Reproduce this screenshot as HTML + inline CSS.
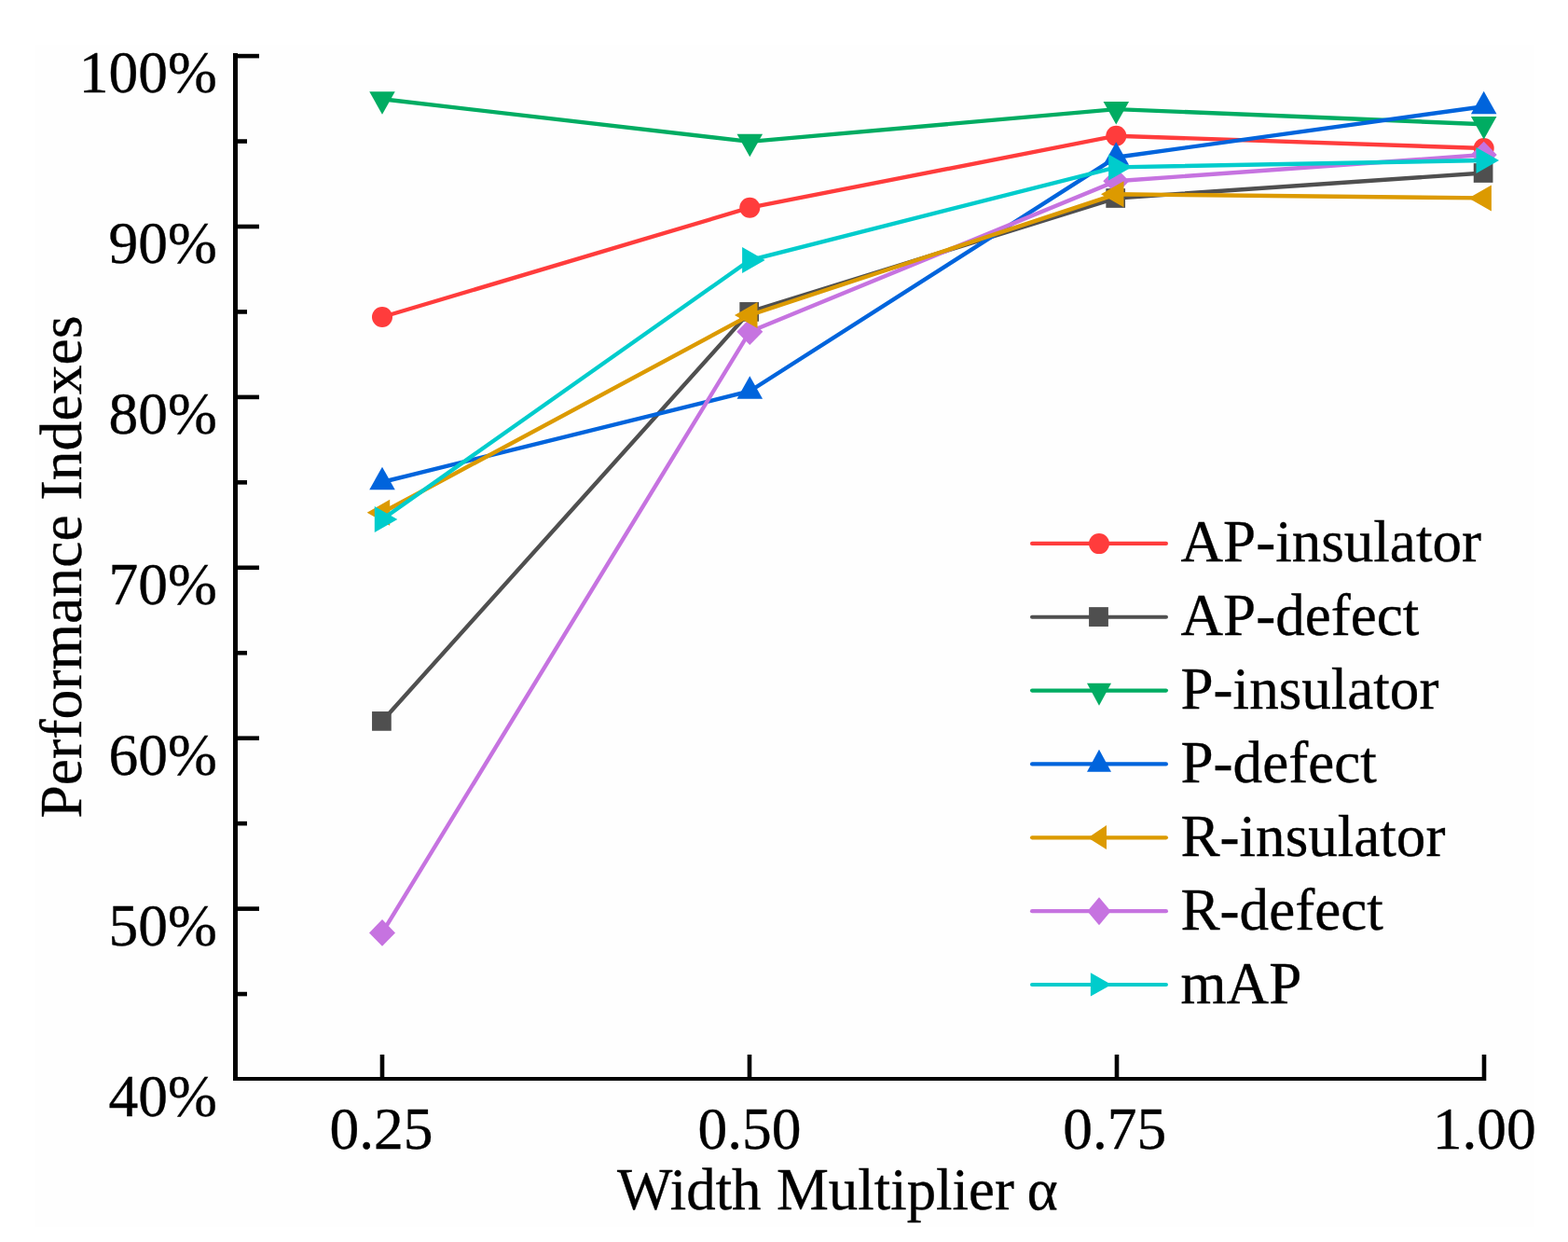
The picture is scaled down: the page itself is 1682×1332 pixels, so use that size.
<!DOCTYPE html>
<html><head><meta charset="utf-8"><title>Performance Indexes vs Width Multiplier</title>
<style>html,body{margin:0;padding:0;background:#fff;width:1682px;height:1332px;overflow:hidden}svg{display:block}
text{font-family:"Liberation Serif","Times New Roman",serif;fill:#000;stroke:#000;stroke-width:0.35px}</style></head><body>
<svg width="1682" height="1332" viewBox="0 0 1682 1332">
<rect x="0" y="0" width="1682" height="1332" fill="#ffffff"/>
<rect x="38" y="48" width="1608" height="1268" fill="#fefefe"/>

<g stroke-linejoin="miter" stroke-linecap="butt" fill="none">
<polyline points="410.00,340.00 804.30,222.70 1197.30,145.70 1591.70,159.00" stroke="#FF3C3C" stroke-width="4.4" fill="none"/>
<circle cx="410.00" cy="340.00" r="11" fill="#FF3C3C"/>
<circle cx="804.30" cy="222.70" r="11" fill="#FF3C3C"/>
<circle cx="1197.30" cy="145.70" r="11" fill="#FF3C3C"/>
<circle cx="1591.70" cy="159.00" r="11" fill="#FF3C3C"/>
<polyline points="410.00,773.40 804.30,334.40 1197.30,212.50 1591.70,185.50" stroke="#4F4F4F" stroke-width="4.4" fill="none"/>
<rect x="399.05" y="763.05" width="20.70" height="20.70" fill="#4F4F4F"/>
<rect x="793.35" y="324.05" width="20.70" height="20.70" fill="#4F4F4F"/>
<rect x="1186.35" y="202.15" width="20.70" height="20.70" fill="#4F4F4F"/>
<rect x="1580.75" y="175.15" width="20.70" height="20.70" fill="#4F4F4F"/>
<polyline points="410.00,106.30 804.30,151.90 1197.30,117.10 1591.70,133.20" stroke="#00AC62" stroke-width="4.4" fill="none"/>
<polygon points="410.00,122.63 423.75,98.13 396.25,98.13" fill="#00AC62"/>
<polygon points="804.30,168.23 818.05,143.73 790.55,143.73" fill="#00AC62"/>
<polygon points="1197.30,133.43 1211.05,108.93 1183.55,108.93" fill="#00AC62"/>
<polygon points="1591.70,149.53 1605.45,125.03 1577.95,125.03" fill="#00AC62"/>
<polyline points="410.00,517.00 804.30,419.50 1197.30,168.70 1591.70,114.20" stroke="#0064DC" stroke-width="4.4" fill="none"/>
<polygon points="410.00,500.67 423.75,525.17 396.25,525.17" fill="#0064DC"/>
<polygon points="804.30,403.17 818.05,427.67 790.55,427.67" fill="#0064DC"/>
<polygon points="1197.30,152.37 1211.05,176.87 1183.55,176.87" fill="#0064DC"/>
<polygon points="1591.70,97.87 1605.45,122.37 1577.95,122.37" fill="#0064DC"/>
<polyline points="410.00,1000.40 804.30,355.70 1197.30,194.20 1591.70,166.00" stroke="#C673E0" stroke-width="4.4" fill="none"/>
<polygon points="410.00,986.10 424.00,1000.40 410.00,1014.70 396.00,1000.40" fill="#C673E0"/>
<polygon points="804.30,341.40 818.30,355.70 804.30,370.00 790.30,355.70" fill="#C673E0"/>
<polygon points="1197.30,179.90 1211.30,194.20 1197.30,208.50 1183.30,194.20" fill="#C673E0"/>
<polygon points="1591.70,151.70 1605.70,166.00 1591.70,180.30 1577.70,166.00" fill="#C673E0"/>
<polyline points="410.00,549.80 804.30,338.00 1197.30,208.30 1591.70,212.40" stroke="#DC9A00" stroke-width="4.4" fill="none"/>
<polygon points="393.67,549.80 418.17,535.80 418.17,563.80" fill="#DC9A00"/>
<polygon points="787.97,338.00 812.47,324.00 812.47,352.00" fill="#DC9A00"/>
<polygon points="1180.97,208.30 1205.47,194.30 1205.47,222.30" fill="#DC9A00"/>
<polygon points="1575.37,212.40 1599.87,198.40 1599.87,226.40" fill="#DC9A00"/>
<polyline points="410.00,557.00 804.30,279.00 1197.30,179.40 1591.70,172.00" stroke="#00CCCC" stroke-width="4.4" fill="none"/>
<polygon points="426.33,557.00 401.83,543.00 401.83,571.00" fill="#00CCCC"/>
<polygon points="820.63,279.00 796.13,265.00 796.13,293.00" fill="#00CCCC"/>
<polygon points="1213.63,179.40 1189.13,165.40 1189.13,193.40" fill="#00CCCC"/>
<polygon points="1608.03,172.00 1583.53,158.00 1583.53,186.00" fill="#00CCCC"/>
</g>
<g fill="#000">
<rect x="250" y="57" width="5" height="1102"/>
<rect x="250" y="1155" width="1344" height="4"/>
<rect x="250" y="1063.75" width="15" height="4.6"/>
<rect x="250" y="972.30" width="28" height="4.6"/>
<rect x="250" y="880.85" width="15" height="4.6"/>
<rect x="250" y="789.40" width="28" height="4.6"/>
<rect x="250" y="697.95" width="15" height="4.6"/>
<rect x="250" y="606.50" width="28" height="4.6"/>
<rect x="250" y="515.05" width="15" height="4.6"/>
<rect x="250" y="423.60" width="28" height="4.6"/>
<rect x="250" y="332.15" width="15" height="4.6"/>
<rect x="250" y="240.70" width="28" height="4.6"/>
<rect x="250" y="149.25" width="15" height="4.6"/>
<rect x="250" y="57.80" width="28" height="4.6"/>
<rect x="407.70" y="1131" width="4.6" height="28"/>
<rect x="801.70" y="1131" width="4.6" height="28"/>
<rect x="1195.70" y="1131" width="4.6" height="28"/>
<rect x="1589.70" y="1131" width="4.6" height="28"/>
</g>
<text x="233" y="1196.6" font-size="63.5" text-anchor="end">40%</text>
<text x="233" y="1013.7" font-size="63.5" text-anchor="end">50%</text>
<text x="233" y="830.8" font-size="63.5" text-anchor="end">60%</text>
<text x="233" y="647.9" font-size="63.5" text-anchor="end">70%</text>
<text x="233" y="465.0" font-size="63.5" text-anchor="end">80%</text>
<text x="233" y="282.1" font-size="63.5" text-anchor="end">90%</text>
<text x="233" y="99.2" font-size="63.5" text-anchor="end">100%</text>
<text x="353.4" y="1231.6" font-size="63.5">0.25</text>
<text x="748.4" y="1231.6" font-size="63.5">0.50</text>
<text x="1140.2" y="1231.6" font-size="63.5">0.75</text>
<text x="1536.7" y="1231.6" font-size="63.5">1.00</text>
<text y="1297" font-size="62.9"><tspan x="661.9">Width</tspan> <tspan x="832.9">Multiplier</tspan> <tspan x="1101.8">α</tspan></text>
<text transform="translate(87.3,877.6) rotate(-90)" y="0" font-size="63.7"><tspan x="0">Performance</tspan> <tspan x="341.1">Indexes</tspan></text>
<line x1="1107.1" y1="582.90" x2="1250.9" y2="582.90" stroke="#FF3C3C" stroke-width="4.2" stroke-linecap="round"/>
<circle cx="1179.00" cy="583.10" r="11" fill="#FF3C3C"/>
<text x="1266.5" y="602.4" font-size="63.1">AP-insulator</text>
<line x1="1107.1" y1="661.75" x2="1250.9" y2="661.75" stroke="#4F4F4F" stroke-width="4.2" stroke-linecap="round"/>
<rect x="1168.10" y="651.15" width="20.80" height="20.80" fill="#4F4F4F"/>
<text x="1266.5" y="681.2" font-size="63.1">AP-defect</text>
<line x1="1107.1" y1="740.60" x2="1250.9" y2="740.60" stroke="#00AC62" stroke-width="4.2" stroke-linecap="round"/>
<polygon points="1179.00,756.80 1192.00,732.80 1166.00,732.80" fill="#00AC62"/>
<text x="1266.5" y="760.1" font-size="63.1">P-insulator</text>
<line x1="1107.1" y1="819.45" x2="1250.9" y2="819.45" stroke="#0064DC" stroke-width="4.2" stroke-linecap="round"/>
<polygon points="1179.00,803.65 1192.00,827.65 1166.00,827.65" fill="#0064DC"/>
<text x="1266.5" y="838.9" font-size="63.1">P-defect</text>
<line x1="1107.1" y1="898.30" x2="1250.9" y2="898.30" stroke="#DC9A00" stroke-width="4.2" stroke-linecap="round"/>
<polygon points="1167.10,898.50 1187.00,885.10 1187.00,911.10" fill="#DC9A00"/>
<text x="1266.5" y="917.8" font-size="63.1">R-insulator</text>
<line x1="1107.1" y1="977.15" x2="1250.9" y2="977.15" stroke="#C673E0" stroke-width="4.2" stroke-linecap="round"/>
<polygon points="1179.00,962.35 1191.60,977.35 1179.00,992.35 1166.40,977.35" fill="#C673E0"/>
<text x="1266.5" y="996.6" font-size="63.1">R-defect</text>
<line x1="1107.1" y1="1056.00" x2="1250.9" y2="1056.00" stroke="#00CCCC" stroke-width="4.2" stroke-linecap="round"/>
<polygon points="1192.30,1056.00 1169.90,1043.20 1169.90,1068.40" fill="#00CCCC"/>
<text x="1266.5" y="1075.5" font-size="63.1">mAP</text>
</svg></body></html>
